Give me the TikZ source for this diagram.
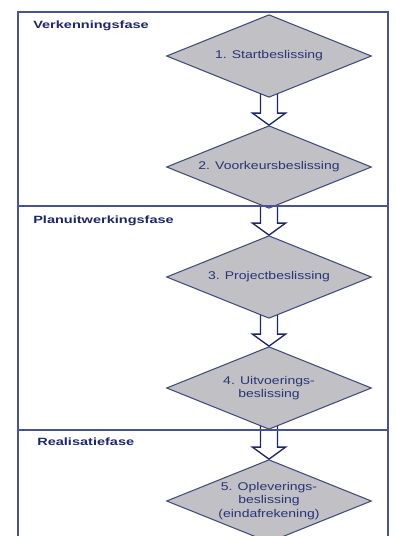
\documentclass[tikz,border=0pt]{standalone}
\usepackage{fontspec}
\setmainfont{Liberation Sans}
\usetikzlibrary{shapes.geometric,calc,backgrounds}

\definecolor{frameblue}{RGB}{70,84,150}
\definecolor{labelblue}{RGB}{28,38,112}
\definecolor{textblue}{RGB}{42,52,118}
\definecolor{diamondgray}{RGB}{192,192,197}
\definecolor{edgeblue}{RGB}{66,76,126}

% horizontally widened, centred text block
\newcommand{\widetext}[2]{\scalebox{#1}[1]{\begin{tabular}{@{}c@{}}#2\end{tabular}}}

% hollow block arrow from the bottom of one decision to the top of the next
\newcommand{\blockarrow}[2]{%
  \begin{pgfonlayer}{background}
  \draw[flow] let \p1=(#1.south), \p2=(#2.north) in
    (\x1-6.4pt,\y1+4pt) -- (\x1-6.4pt,\y2+9pt) -- (\x1-12.4pt,\y2+9pt)
    -- (\x2,\y2) -- (\x1+12.4pt,\y2+9pt) -- (\x1+6.4pt,\y2+9pt)
    -- (\x1+6.4pt,\y1+4pt);
  \end{pgfonlayer}}

\begin{document}
\begin{tikzpicture}[x=0.75pt,y=-0.75pt,
  decision/.style={shape=diamond, aspect=2.45, inner sep=0pt,
    minimum width=153.75pt, minimum height=62pt,
    fill=diamondgray, draw=edgeblue, line width=0.8pt,
    text=textblue, font=\fontsize{8.4}{10}\selectfont},
  phase/.style={anchor=west, inner sep=0pt, text=labelblue,
    font=\fontsize{7.9}{9}\selectfont\bfseries},
  frame/.style={draw=frameblue, line width=1.3pt},
  flow/.style={draw=labelblue, fill=white, line width=1pt, line join=miter}]

\useasboundingbox (0,0) rectangle (396,536);
\clip (0,0) rectangle (396,536);

% decisions
\node[decision] (d1) at (269,56)  {\raisebox{-2pt}{\widetext{1.25}{1. Startbeslissing}}};
\node[decision] (d2) at (269,167) {\widetext{1.25}{2. Voorkeursbeslissing}};
\node[decision] (d3) at (269,277) {\widetext{1.25}{3. Projectbeslissing}};
\node[decision] (d4) at (269,388) {\widetext{1.25}{4. Uitvoerings-\\beslissing}};
\node[decision] (d5) at (269,501) {\widetext{1.25}{5. Opleverings-\\beslissing\\(eindafrekening)}};

% flow between decisions
\blockarrow{d1}{d2}
\blockarrow{d2}{d3}
\blockarrow{d3}{d4}
\blockarrow{d4}{d5}

% phase frame
\coordinate (tl) at (18,12);
\coordinate (tr) at (388,12);
\coordinate (bl) at (18,560);
\coordinate (br) at (388,560);
\draw[frame] (bl) -- (tl) -- (tr) -- (br);
\coordinate (s1l) at (18,206);
\coordinate (s1r) at (388,206);
\coordinate (s2l) at (18,430);
\coordinate (s2r) at (388,430);
\draw[frame] (s1l) -- (s1r);
\draw[frame] (s2l) -- (s2r);

% phase labels
\node[phase] (p1) at (33,26)  {\widetext{1.38}{Verkenningsfase}};
\node[phase] (p2) at (33,221) {\widetext{1.38}{Planuitwerkingsfase}};
\node[phase] (p3) at (37,443) {\widetext{1.38}{Realisatiefase}};
\end{tikzpicture}
\end{document}
